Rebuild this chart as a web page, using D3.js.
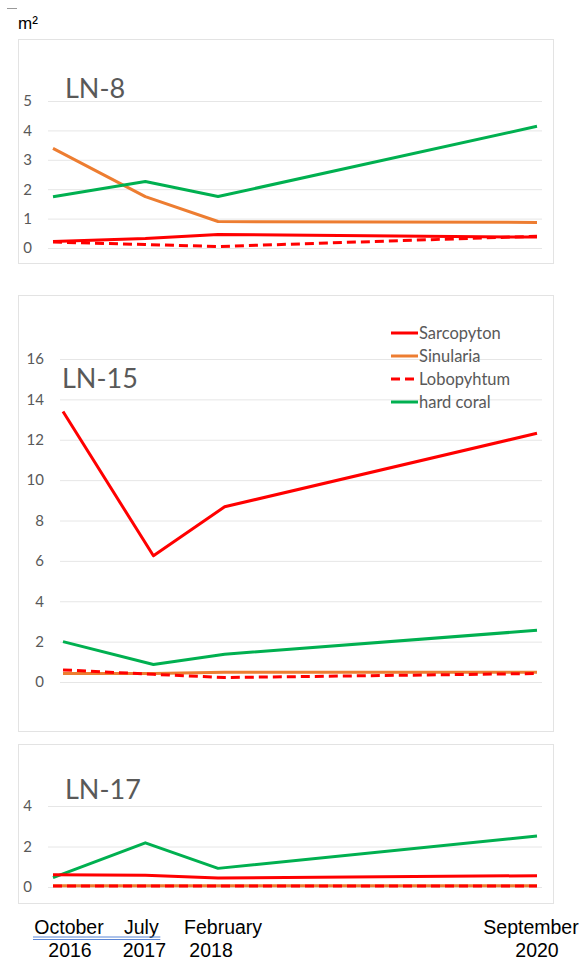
<!DOCTYPE html>
<html lang="en">
<head>
<meta charset="UTF-8">
<title>Soft coral cover</title>
<script src="https://cdn.jsdelivr.net/npm/d3@7"></script>
<style>
  body { margin: 0; background: #fff; }
  svg { display: block; }
</style>
</head>
<body>
<script>
// survey dates (x categories) and their labels
const dates = [new Date(2016, 9, 1), new Date(2017, 6, 1), new Date(2018, 1, 1), new Date(2020, 8, 1)];
const monthLabels = ["October", "July", "February", "September"];
const yearLabels = ["2016", "2017", "2018", "2020"];

const seriesNames = ["Sarcopyton", "Sinularia", "Lobopyhtum", "hard coral"];

// m2 per site, one array per series
const ln8Sarcopyton = [0.22, 0.32, 0.46, 0.37];
const ln8Sinularia  = [3.39, 1.75, 0.90, 0.87];
const ln8Lobophytum = [0.20, 0.12, 0.05, 0.40];
const ln8Hard       = [1.74, 2.26, 1.75, 4.14];

const ln15Sarcopyton = [13.4, 6.25, 8.68, 12.32];
const ln15Sinularia  = [0.42, 0.42, 0.48, 0.48];
const ln15Lobophytum = [0.60, 0.38, 0.22, 0.42];
const ln15Hard       = [2.0, 0.87, 1.38, 2.56];

const ln17Sarcopyton = [0.60, 0.58, 0.44, 0.56];
const ln17Sinularia  = [0.06, 0.06, 0.06, 0.06];
const ln17Lobophytum = [0.05, 0.05, 0.05, 0.05];
const ln17Hard       = [0.46, 2.18, 0.92, 2.52];

const colors = { "Sarcopyton": "#ff0000", "Sinularia": "#ed7d31", "Lobopyhtum": "#ff0000", "hard coral": "#00b050" };
const dashed = { "Lobopyhtum": "9,5" };

const width = 584, height = 962;

const svg = d3.select("body").append("svg")
  .attr("width", width).attr("height", height);

// panel layout (box, grid, y range) – not data
const panels = [
  { title: "LN-8", box: [18, 39, 553, 263], gridX: [48, 542], dataX: [53, 537], yRange: [248, 101], yMax: 5, step: 1,
    titleXY: [65, 98], legend: false,
    values: [ln8Sarcopyton, ln8Sinularia, ln8Lobophytum, ln8Hard] },
  { title: "LN-15", box: [18, 295, 553, 731], gridX: [60, 542], dataX: [63, 537], yRange: [682, 359], yMax: 16, step: 2,
    titleXY: [62, 388], legend: true,
    values: [ln15Sarcopyton, ln15Sinularia, ln15Lobophytum, ln15Hard] },
  { title: "LN-17", box: [18, 744, 553, 903], gridX: [48, 542], dataX: [53, 537], yRange: [887, 806], yMax: 4, step: 2,
    titleXY: [65, 799], legend: false,
    values: [ln17Sarcopyton, ln17Sinularia, ln17Lobophytum, ln17Hard] }
];

let lastX;

panels.forEach(p => {
  const g = svg.append("g");

  g.append("rect")
    .attr("x", p.box[0] + 0.5).attr("y", p.box[1] + 0.5)
    .attr("width", p.box[2] - p.box[0]).attr("height", p.box[3] - p.box[1])
    .attr("fill", "#fff").attr("stroke", "#e3e3e3");

  const x = d3.scaleTime().domain([dates[0], dates[dates.length - 1]]).range(p.dataX);
  const y = d3.scaleLinear().domain([0, p.yMax]).range(p.yRange);
  lastX = x;

  // y axis with gridlines
  g.append("g")
    .attr("transform", `translate(${p.gridX[0]},0)`)
    .call(d3.axisLeft(y)
      .tickValues(d3.range(0, p.yMax + 0.001, p.step))
      .tickSize(-(p.gridX[1] - p.gridX[0]))
      .tickPadding(16)
      .tickFormat(d3.format("d")))
    .call(a => a.select(".domain").remove())
    .call(a => a.selectAll(".tick line").attr("stroke", "#e6e6e6").attr("stroke-width", 1))
    .call(a => a.selectAll(".tick text")
      .attr("fill", "#595959")
      .style("font-family", "Lato, 'Open Sans', sans-serif")
      .style("font-size", "15px"));

  g.append("text")
    .attr("x", p.titleXY[0]).attr("y", p.titleXY[1])
    .attr("fill", "#595959")
    .style("font-family", "Lato, 'Open Sans', sans-serif")
    .style("font-size", "27px")
    .text(p.title);

  const line = d3.line().x((d, i) => x(dates[i])).y(d => y(d));

  // draw Sinularia first, then hard coral, then red ones on top
  [1, 3, 0, 2].forEach(si => {
    const name = seriesNames[si];
    g.append("path")
      .datum(p.values[si])
      .attr("d", line)
      .attr("fill", "none")
      .attr("stroke", colors[name])
      .attr("stroke-width", 3)
      .attr("stroke-dasharray", dashed[name] || null)
      .attr("stroke-linejoin", "round");
  });

  if (p.legend) {
    const lg = g.append("g").attr("transform", "translate(391,333)");
    seriesNames.forEach((name, i) => {
      const row = lg.append("g").attr("transform", `translate(0,${i * 23})`);
      row.append("line")
        .attr("x1", 0).attr("x2", 27).attr("y1", 0).attr("y2", 0)
        .attr("stroke", colors[name]).attr("stroke-width", 3)
        .attr("stroke-dasharray", dashed[name] || null);
      row.append("text")
        .attr("x", 28).attr("y", 5.5)
        .attr("fill", "#595959")
        .style("font-family", "Lato, 'Open Sans', sans-serif")
        .style("font-size", "16.5px")
        .text(name);
    });
  }
});

// unit label and the little mark above it
svg.append("line").attr("x1", 7).attr("x2", 17).attr("y1", 8.5).attr("y2", 8.5)
  .attr("stroke", "#999").attr("stroke-width", 1);
svg.append("text")
  .attr("x", 18).attr("y", 29)
  .style("font-family", "'Liberation Sans', Arial, sans-serif")
  .style("font-size", "17px")
  .attr("fill", "#000")
  .text("m²");

// x labels under the last panel
const labelDx = [16, -4, 5, -6];
const yearDx = [17, -1, -7, 0];
const xl = svg.append("g")
  .style("font-family", "'Liberation Sans', Arial, sans-serif")
  .style("font-size", "19.5px")
  .attr("fill", "#000")
  .attr("text-anchor", "middle");
dates.forEach((d, i) => {
  xl.append("text").attr("x", lastX(d) + labelDx[i]).attr("y", 934).text(monthLabels[i]);
  xl.append("text").attr("x", lastX(d) + yearDx[i]).attr("y", 957).text(yearLabels[i]);
});

// blue underline under "October  July"
const ux0 = lastX(dates[0]) - 20, ux1 = lastX(dates[1]) + 15;
[937, 939.5].forEach(yy => {
  svg.append("line").attr("x1", ux0).attr("x2", ux1).attr("y1", yy).attr("y2", yy)
    .attr("stroke", "#5b86d6").attr("stroke-width", 1);
});
</script>
</body>
</html>
